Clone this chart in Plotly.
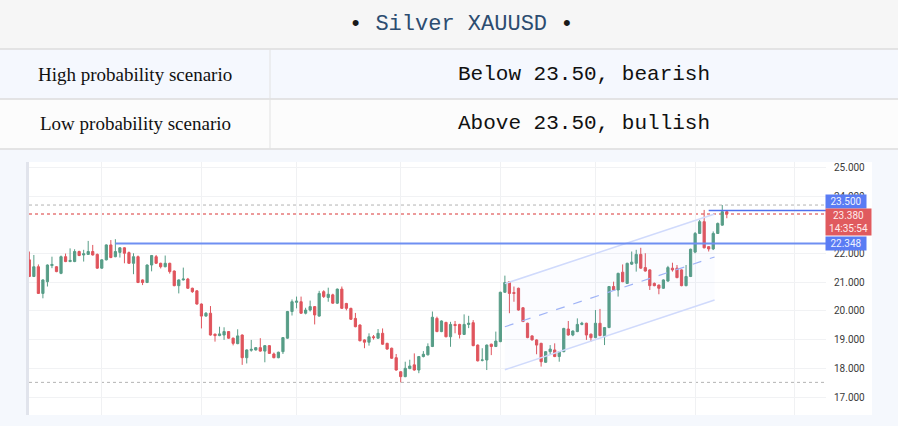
import plotly.graph_objects as go

# ---------------- data ----------------
candle_idx = list(range(1, 156))
opens = [21.78,21.20,21.54,20.61,21.02,21.58,21.54,21.31,21.89,21.72,21.72,22.07,21.95,21.97,22.07,21.97,21.49,21.78,22.30,21.89,
         22.04,22.20,22.03,21.66,21.89,21.08,20.99,21.60,21.89,21.66,21.54,21.66,21.39,20.88,21.08,21.11,20.79,20.70,20.24,19.82,
         19.92,19.19,19.14,19.16,19.28,19.05,18.86,19.16,18.37,18.63,18.64,18.72,18.60,18.79,18.50,18.37,18.58,19.05,19.98,20.30,
         20.32,19.92,20.03,20.15,19.82,20.67,20.47,20.56,20.27,20.76,20.26,20.09,19.74,19.51,18.99,18.91,19.10,19.05,19.22,18.87,
         18.70,18.37,17.88,17.71,17.99,18.12,17.94,18.41,18.47,18.76,19.74,19.28,19.60,19.10,19.53,19.53,19.18,19.53,19.59,18.81,
         18.28,18.29,18.84,18.76,18.93,20.65,21.02,20.64,20.79,20.11,19.57,19.13,18.99,18.87,18.21,18.58,18.64,18.41,18.58,19.37,
         19.16,19.28,19.53,19.57,19.19,19.07,19.57,19.10,19.42,20.85,20.73,21.35,20.96,21.63,21.66,21.97,21.51,21.43,20.96,20.90,
         20.79,21.04,21.49,21.49,21.43,20.88,21.20,22.05,22.70,23.11,22.24,22.16,22.70,22.99,23.46]
highs = [22.07,21.95,21.62,21.10,21.62,21.89,21.56,21.93,22.00,22.18,22.15,22.10,22.13,22.44,22.30,22.00,21.80,22.32,22.47,22.50,
         22.22,22.22,22.07,22.01,21.93,21.10,21.62,21.95,21.95,21.68,21.93,21.68,21.41,21.10,21.51,21.15,20.81,20.72,20.26,19.96,
         20.17,19.21,19.45,19.43,19.30,19.07,19.36,19.18,18.66,18.99,18.74,19.05,18.81,18.81,18.55,18.58,19.09,20.00,20.40,20.50,
         20.50,20.11,20.36,20.17,20.70,20.72,20.81,20.60,20.78,20.85,20.28,20.11,19.93,19.53,19.01,19.22,19.16,19.37,19.39,18.89,
         18.72,18.50,17.90,18.23,18.30,18.52,18.43,18.60,18.87,19.98,19.80,19.67,19.62,19.62,19.65,19.55,19.88,19.83,19.68,18.83,
         18.70,18.83,18.86,19.28,20.67,21.23,21.04,20.85,20.81,20.13,19.59,19.15,19.01,18.89,18.60,18.81,18.87,18.60,19.41,19.65,
         19.32,19.74,19.62,19.59,19.21,20.03,20.07,19.44,20.87,21.02,21.33,21.62,21.68,22.07,22.13,22.20,22.01,21.45,20.99,20.92,
         21.10,21.57,21.68,21.60,21.45,21.60,22.17,22.75,23.17,23.52,22.26,22.77,23.08,23.69,23.48]
lows = [21.18,21.18,20.59,20.44,20.85,21.49,21.35,21.28,21.70,21.70,21.70,21.91,21.72,21.95,21.93,21.47,21.47,21.76,21.84,21.87,
        21.86,21.66,21.64,21.28,20.97,20.90,20.97,21.38,21.64,21.48,21.52,21.30,20.86,20.61,21.06,20.77,20.63,20.22,19.39,19.80,
        19.14,18.93,19.12,18.99,19.03,18.80,18.84,18.12,18.17,18.58,18.62,18.58,18.21,18.50,18.35,18.35,18.50,19.03,19.84,20.09,
        19.90,19.88,19.98,19.53,19.80,20.45,20.32,20.25,20.24,20.07,20.02,19.69,19.43,18.94,18.70,18.79,19.00,19.03,18.82,18.65,
        18.33,17.92,17.51,17.69,17.97,17.92,17.83,18.38,18.45,18.74,19.26,19.26,19.08,18.75,19.22,19.04,19.16,19.40,18.77,18.24,
        18.24,17.94,18.46,18.74,18.91,20.63,19.92,20.32,20.01,19.61,19.05,18.97,18.49,18.06,18.19,18.47,18.39,18.23,18.56,19.14,
        19.12,19.26,19.50,18.99,18.93,19.05,19.12,18.81,19.40,20.71,20.50,21.00,20.94,21.60,21.37,21.47,21.37,20.73,20.86,20.58,
        20.77,21.02,21.37,21.14,20.86,20.86,21.18,22.01,22.68,22.18,22.07,22.12,22.68,22.97,23.23]
closes = [21.20,21.54,20.61,21.08,21.60,21.62,21.37,21.89,21.72,21.76,22.07,21.93,21.99,22.07,21.95,21.49,21.78,22.30,21.86,22.07,
          22.20,22.01,21.66,21.89,20.99,20.99,21.60,21.93,21.66,21.54,21.66,21.37,20.88,21.08,21.11,20.79,20.67,20.24,19.82,19.92,
          19.16,19.14,19.20,19.28,19.05,18.87,19.13,18.37,18.64,18.66,18.72,18.60,18.79,18.52,18.37,18.56,19.07,19.98,20.32,20.34,
          19.92,20.03,20.15,19.86,20.61,20.50,20.58,20.27,20.76,20.09,20.09,19.71,19.45,18.96,18.91,19.10,19.07,19.22,18.84,18.67,
          18.35,17.94,17.71,18.00,18.08,17.94,18.41,18.49,18.76,19.78,19.28,19.65,19.10,19.53,19.49,19.18,19.53,19.57,18.79,18.26,
          18.29,18.81,18.76,18.95,20.65,20.99,20.61,20.61,20.03,19.63,19.07,18.99,18.81,18.23,18.58,18.67,18.41,18.58,19.39,19.16,
          19.30,19.53,19.57,19.16,19.07,19.57,19.14,19.42,20.85,20.73,21.31,21.02,21.66,21.70,21.97,21.49,21.39,20.88,20.88,20.79,
          21.08,21.51,21.43,21.16,20.88,21.20,22.15,22.70,23.11,22.20,22.16,22.70,23.05,23.46,23.38]

price_ticks = [17, 18, 19, 20, 21, 22, 24, 25]
month_ticks = [17, 39, 60, 83, 105, 126, 148, 170]

support_level = 22.348
support_start = 20
resist_level = 23.500
resist_start = 151
last_price = 23.380
last_time = "14:35:54"
period_high = 23.69
period_low = 17.51

chan_x = [106, 152.3]
chan_mid = [19.45, 21.88]
chan_half = 1.5

title_text = "Silver XAUUSD"
rows = [("High probability scenario", "Below 23.50, bearish"),
        ("Low probability scenario", "Above 23.50, bullish")]

# ---------------- layout helpers ----------------
W, H = 898, 426
def px(x): return x / W
def py(y): return 1 - y / H

X_RANGE = [0.93, 176.9]
Y_RANGE = [16.373, 25.19]

fig = go.Figure()

# channel fill + lines
chan_up = [m + chan_half for m in chan_mid]
chan_lo = [m - chan_half for m in chan_mid]
fig.add_trace(go.Scatter(x=chan_x + chan_x[::-1], y=chan_up + chan_lo[::-1], fill="toself",
                         fillcolor="rgba(120,150,245,0.03)", line=dict(width=0), mode="lines",
                         hoverinfo="skip", showlegend=False))
fig.add_trace(go.Scatter(x=chan_x, y=chan_up, mode="lines", line=dict(color="#d0dafc", width=1.5),
                         hoverinfo="skip", showlegend=False))
fig.add_trace(go.Scatter(x=chan_x, y=chan_lo, mode="lines", line=dict(color="#d0dafc", width=1.5),
                         hoverinfo="skip", showlegend=False))
fig.add_trace(go.Scatter(x=chan_x, y=chan_mid, mode="lines", line=dict(color="#9fb3f6", width=1.2, dash="dash"),
                         hoverinfo="skip", showlegend=False))

fig.add_trace(go.Candlestick(
    x=candle_idx, open=opens, high=highs, low=lows, close=closes,
    increasing=dict(line=dict(color="#579d87", width=1), fillcolor="#579d87"),
    decreasing=dict(line=dict(color="#e0545c", width=1), fillcolor="#e0545c"),
    whiskerwidth=0, showlegend=False))

shapes = []
# header backgrounds
shapes.append(dict(type="rect", xref="paper", yref="paper", x0=0, x1=1, y0=py(49), y1=py(0),
                   fillcolor="#f6f6f6", line=dict(width=0), layer="below"))
shapes.append(dict(type="rect", xref="paper", yref="paper", x0=0, x1=1, y0=py(99), y1=py(49),
                   fillcolor="#f5f8fe", line=dict(width=0), layer="below"))
shapes.append(dict(type="rect", xref="paper", yref="paper", x0=0, x1=1, y0=py(149), y1=py(99),
                   fillcolor="#fcfcfc", line=dict(width=0), layer="below"))
for yy in (49, 99, 149):
    shapes.append(dict(type="line", xref="paper", yref="paper", x0=0, x1=1, y0=py(yy), y1=py(yy),
                       line=dict(color="#dcdcdc", width=1.5), layer="below"))
shapes.append(dict(type="line", xref="paper", yref="paper", x0=px(270), x1=px(270), y0=py(149), y1=py(49),
                   line=dict(color="#e2e2e2", width=1), layer="below"))
# chart panel
shapes.append(dict(type="rect", xref="paper", yref="paper", x0=px(29), x1=px(872), y0=py(415), y1=py(162),
                   fillcolor="#ffffff", line=dict(width=0), layer="below"))
shapes.append(dict(type="rect", xref="paper", yref="paper", x0=px(26), x1=px(29), y0=py(415), y1=py(162),
                   fillcolor="#e1e4ec", line=dict(width=0), layer="below"))
# dotted high / low / last
for lvl, col, wd in ((period_high, "#b3b3b3", 1), (period_low, "#b3b3b3", 1), (last_price, "#e67a7a", 1.5)):
    shapes.append(dict(type="line", xref="x", yref="y", x0=X_RANGE[0], x1=X_RANGE[1], y0=lvl, y1=lvl,
                       line=dict(color=col, width=wd, dash="dot"), layer="below"))
# support / resistance lines
shapes.append(dict(type="line", xref="x", yref="y", x0=support_start, x1=X_RANGE[1], y0=support_level,
                   y1=support_level, line=dict(color="#6f8ff2", width=2)))
shapes.append(dict(type="line", xref="x", yref="y", x0=resist_start, x1=X_RANGE[1], y0=resist_level,
                   y1=resist_level, line=dict(color="#4f70ee", width=1.5)))

annotations = []
annotations.append(dict(xref="paper", yref="paper", x=px(461), y=py(24), xanchor="center", yanchor="middle",
                        text="<span style='color:#1a1a1a'>•</span> " + title_text + " <span style='color:#1a1a1a'>•</span>",
                        showarrow=False, font=dict(family="Liberation Mono", size=22, color="#2c4c70")))
for i, (lab, val) in enumerate(rows):
    yc = 74 + i * 50
    annotations.append(dict(xref="paper", yref="paper", x=px(135), y=py(yc), xanchor="center", yanchor="middle",
                            text=lab, showarrow=False,
                            font=dict(family="Liberation Serif", size=19, color="#111111")))
    annotations.append(dict(xref="paper", yref="paper", x=px(584), y=py(yc), xanchor="center", yanchor="middle",
                            text=val, showarrow=False,
                            font=dict(family="Liberation Mono", size=21, color="#111111")))
# price tags
lab_font = "Roboto"
annotations.append(dict(xref="paper", yref="y", x=px(825), y=resist_level, yshift=9, xanchor="left",
                        yanchor="middle", text=f"{resist_level:.3f}", showarrow=False, bgcolor="#5a7cf4",
                        width=38, borderpad=1, font=dict(family=lab_font, size=10, color="#eef2ff")))
annotations.append(dict(xref="paper", yref="y", x=px(825), y=last_price, yshift=6, xanchor="left",
                        yanchor="top", text=f"{last_price:.3f}<br>{last_time}", showarrow=False,
                        bgcolor="#e05a5e", width=43, borderpad=1, align="center",
                        font=dict(family=lab_font, size=10, color="#ffeaea")))
annotations.append(dict(xref="paper", yref="y", x=px(825), y=support_level, xanchor="left",
                        yanchor="middle", text=f"{support_level:.3f}", showarrow=False, bgcolor="#5a7cf4",
                        width=38, borderpad=1, font=dict(family=lab_font, size=10, color="#eef2ff")))

fig.update_layout(
    width=W, height=H, margin=dict(l=0, r=0, t=0, b=0),
    paper_bgcolor="#f5f8fd", plot_bgcolor="rgba(0,0,0,0)",
    shapes=shapes, annotations=annotations, showlegend=False,
    xaxis=dict(domain=[px(29), px(826)], range=X_RANGE, rangeslider=dict(visible=False),
               tickvals=month_ticks, showticklabels=False, showgrid=True, gridcolor="#f0f1f3",
               gridwidth=1, zeroline=False, showline=False, ticks="", fixedrange=True),
    yaxis=dict(domain=[py(415), py(162)], range=Y_RANGE, side="right", tickvals=price_ticks,
               ticktext=[f"{v:.3f}" for v in price_ticks], showgrid=True, gridcolor="#f1f2f4",
               zeroline=False, showline=False, ticks="", ticklabelstandoff=7,
               tickfont=dict(family=lab_font, size=10, color="#3a3a3a")),
)

fig.write_html("out.html", config={"displayModeBar": False},
               post_script="document.body.style.margin='0';document.body.style.overflow='hidden';")
